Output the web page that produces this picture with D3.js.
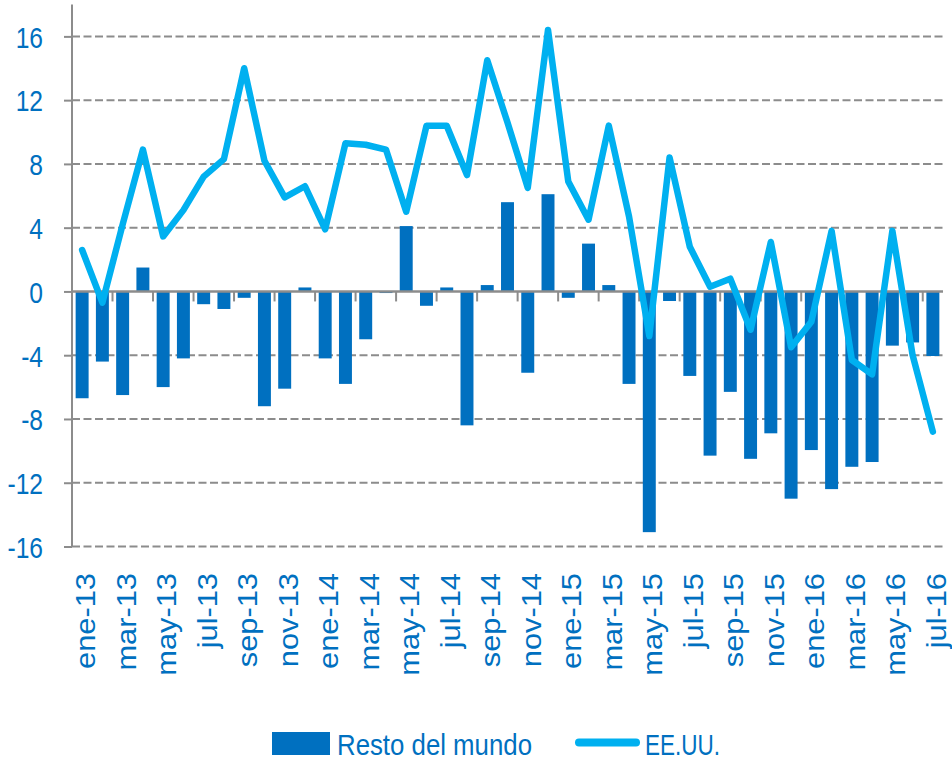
<!DOCTYPE html>
<html>
<head>
<meta charset="utf-8">
<script src="https://cdn.jsdelivr.net/npm/d3@7"></script>
<style>
  html, body { margin: 0; padding: 0; background: #ffffff; }
  svg { display: block; font-family: "Liberation Sans", Arial, sans-serif; }
</style>
</head>
<body>
<svg id="chart" width="952" height="765"></svg>
<script>
// ---- data ----
const months = [
  "ene-13","feb-13","mar-13","abr-13","may-13","jun-13","jul-13","ago-13","sep-13","oct-13","nov-13","dic-13",
  "ene-14","feb-14","mar-14","abr-14","may-14","jun-14","jul-14","ago-14","sep-14","oct-14","nov-14","dic-14",
  "ene-15","feb-15","mar-15","abr-15","may-15","jun-15","jul-15","ago-15","sep-15","oct-15","nov-15","dic-15",
  "ene-16","feb-16","mar-16","abr-16","may-16","jun-16","jul-16"
];
const restoDelMundo = [
  -6.7, -4.4, -6.5, 1.5, -6.0, -4.2, -0.8, -1.1, -0.4, -7.2, -6.1, 0.25,
  -4.2, -5.8, -3.0, -0.1, 4.1, -0.9, 0.25, -8.4, 0.4, 5.6, -5.1, 6.1,
  -0.4, 3.0, 0.4, -5.8, -15.1, -0.6, -5.3, -10.3, -6.3, -10.5, -8.9, -13.0,
  -9.95, -12.4, -11.0, -10.7, -3.4, -3.2, -4.05
];
const eeuu = [
  2.6, -0.7, 4.2, 8.9, 3.45, 5.1, 7.2, 8.3, 14.0, 8.2, 5.9, 6.6,
  3.9, 9.3, 9.2, 8.9, 5.0, 10.4, 10.4, 7.3, 14.5, 10.6, 6.5, 16.4,
  6.9, 4.5, 10.4, 4.7, -2.8, 8.4, 2.8, 0.3, 0.8, -2.4, 3.1, -3.5,
  -1.9, 3.8, -4.3, -5.2, 3.8, -4.0, -8.8
];
const yTicks = [-16, -12, -8, -4, 0, 4, 8, 12, 16];
const seriesNames = ["Resto del mundo", "EE.UU."];

// ---- style ----
const barColor = "#0070C0";
const lineColor = "#00B0F0";
const textColor = "#0070C0";
const gridColor = "#8C8C8C";

const svg = d3.select("#chart");
const left = 72, right = 943;

const x = d3.scaleBand().domain(months).range([left, right])
  .paddingInner(0.36).paddingOuter(0.18);
const y = d3.scaleLinear().domain([-16, 18]).range([546.5, 4.5]);
const cx = d => x(d) + x.bandwidth() / 2;
const boundary = i => x(months[i]) - x.step() * x.paddingInner() / 2;

// gridlines
svg.append("g").selectAll("line")
  .data(yTicks.filter(v => v !== 0))
  .join("line")
  .attr("x1", left).attr("x2", right + 2)
  .attr("y1", d => y(d)).attr("y2", d => y(d))
  .attr("stroke", gridColor).attr("stroke-width", 2)
  .attr("stroke-dasharray", "8,3.5");

// bars
const data = months.map((m, i) => ({ m, r: restoDelMundo[i], u: eeuu[i] }));
svg.append("g").selectAll("rect")
  .data(data)
  .join("rect")
  .attr("x", d => x(d.m))
  .attr("width", x.bandwidth())
  .attr("y", d => y(Math.max(0, d.r)))
  .attr("height", d => Math.abs(y(d.r) - y(0)))
  .attr("fill", barColor);

// y axis
const yAxis = d3.axisLeft(y).tickValues(yTicks).tickSize(8).tickSizeOuter(0).tickFormat(d => String(d));
const yg = svg.append("g").attr("transform", `translate(${left},0)`).call(yAxis);
yg.select(".domain").remove();
yg.selectAll(".tick line").attr("stroke", gridColor).attr("stroke-width", 2);
yg.selectAll(".tick text")
  .attr("fill", textColor)
  .attr("font-size", 30)
  .attr("font-family", "'Liberation Sans', Arial, sans-serif")
  .attr("x", -(left - 43) / 0.82)
  .attr("dy", "0.36em")
  .attr("transform", "scale(0.82,1)");
svg.append("line")
  .attr("x1", left).attr("x2", left)
  .attr("y1", 4.5).attr("y2", y(-16))
  .attr("stroke", gridColor).attr("stroke-width", 2);

// zero axis + ticks
svg.append("line")
  .attr("x1", left).attr("x2", right)
  .attr("y1", y(0)).attr("y2", y(0))
  .attr("stroke", gridColor).attr("stroke-width", 2.5);
const tickIdx = d3.range(2, months.length, 2);
svg.append("g").selectAll("line")
  .data(tickIdx)
  .join("line")
  .attr("x1", i => boundary(i)).attr("x2", i => boundary(i))
  .attr("y1", y(0)).attr("y2", y(0) + 10)
  .attr("stroke", gridColor).attr("stroke-width", 2);

// x labels
svg.append("g").selectAll("text")
  .data(months.filter((m, i) => i % 2 === 0))
  .join("text")
  .attr("transform", d => `translate(${cx(d)},573) rotate(-90) scale(1.1,1)`)
  .attr("text-anchor", "end")
  .attr("dy", 13)
  .attr("font-size", 28)
  .attr("fill", textColor)
  .text(d => d);

// line
const line = d3.line().x(d => cx(d.m)).y(d => y(d.u));
svg.append("path")
  .datum(data)
  .attr("d", line)
  .attr("fill", "none")
  .attr("stroke", lineColor)
  .attr("stroke-width", 6.5)
  .attr("stroke-linejoin", "round")
  .attr("stroke-linecap", "round");

// legend
const lg = svg.append("g");
lg.append("rect").attr("x", 272).attr("y", 732).attr("width", 58).attr("height", 23).attr("fill", barColor);
lg.append("text")
  .attr("transform", "translate(337,755) scale(0.86,1)")
  .attr("font-size", 30).attr("fill", textColor)
  .text(seriesNames[0]);
lg.append("line").attr("x1", 579).attr("x2", 636).attr("y1", 742.5).attr("y2", 742.5)
  .attr("stroke", lineColor).attr("stroke-width", 8).attr("stroke-linecap", "round");
lg.append("text")
  .attr("transform", "translate(645,755) scale(0.75,1)")
  .attr("font-size", 30).attr("fill", textColor)
  .text(seriesNames[1]);
</script>
</body>
</html>
